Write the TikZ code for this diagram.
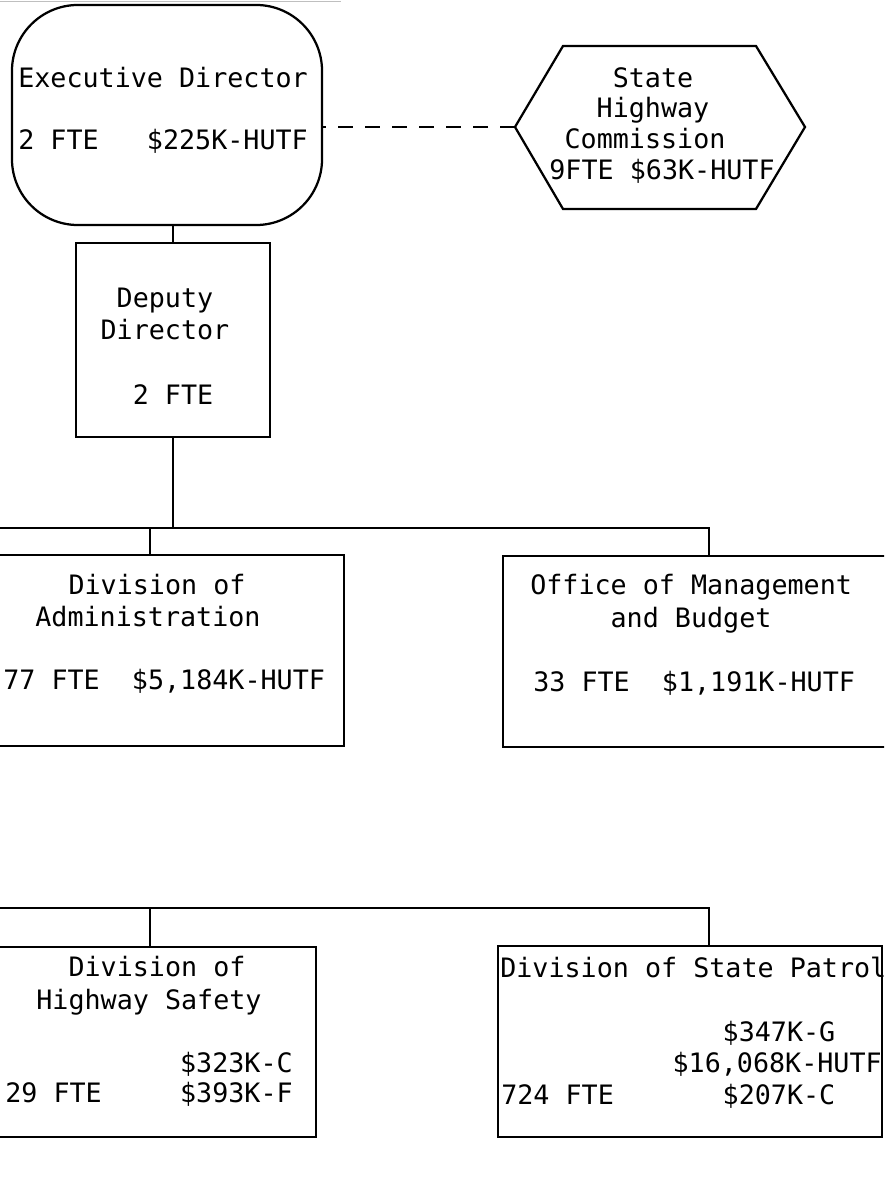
\documentclass[tikz,border=0pt]{standalone}
\usepackage{fontspec}
\setmainfont{DejaVu Sans Mono}
\usepackage{tikz}
\usetikzlibrary{calc, positioning}

\begin{document}
\begin{tikzpicture}[
    x=0.025cm, y=-0.025cm,
    unit/.style={draw, line width=1.6pt, inner sep=0pt},
    lbl/.style={inner sep=0pt, text height=13.8pt, text depth=0pt,
      font=\fontsize{19}{22}\selectfont},
    link/.style={line width=1.4pt},
    dashlink/.style={line width=1.4pt, dash pattern=on 0.375cm off 0.3cm},
  ]
    \clip (0,0) rectangle (884,1187);
    \draw[gray!50, line width=0.6pt] (0,1) -- (341,1);

    % top level
    \node[unit, rounded corners=1.65cm, minimum width=7.75cm, minimum height=5.5cm] (exec) at (167,115) {};
    \node[lbl, anchor=west] (exec-t1) at (18,78) {Executive Director};
    \node[lbl, anchor=west] (exec-t2) at (18,140) {2 FTE~~~\$225K-HUTF};

    \draw[line width=1.6pt] (515,127) coordinate (shc-w) -- (563,46) -- (756,46)
      -- (805,127) coordinate (shc-e) -- (756,209) -- (563,209) -- cycle;
    \node[lbl] (shc-t1) at (653,78) {State};
    \node[lbl] (shc-t2) at (653,108) {Highway};
    \node[lbl] (shc-t3) at (645,139) {Commission};
    \node[lbl] (shc-t4) at (662,170) {9FTE \$63K-HUTF};

    \node[unit, minimum width=4.85cm, minimum height=4.85cm] (dep) at (173,340) {};
    \node[lbl] (dep-t1) at (165,298) {Deputy};
    \node[lbl] (dep-t2) at (165,330) {Director};
    \node[lbl] (dep-t3) at (173,395) {2 FTE};

    % divisions
    \node[unit, minimum width=9.7cm, minimum height=4.775cm] (admin) at (150,650.5) {};
    \node[lbl] (admin-t1) at (157,585) {Division of};
    \node[lbl] (admin-t2) at (148,617) {Administration};
    \node[lbl, anchor=west] (admin-t3) at (3,680) {77 FTE~~\$5,184K-HUTF};

    \node[unit, minimum width=9.675cm, minimum height=4.775cm] (omb) at (696.5,651.5) {};
    \node[lbl, anchor=west] (omb-t1) at (530,585) {Office of Management};
    \node[lbl] (omb-t2) at (691,618) {and Budget};
    \node[lbl, anchor=west] (omb-t3) at (533,682) {33 FTE~~\$1,191K-HUTF};

    \node[unit, minimum width=8.3cm, minimum height=4.75cm] (hs) at (150,1042) {};
    \node[lbl] (hs-t1) at (157,967) {Division of};
    \node[lbl] (hs-t2) at (149,1000) {Highway Safety};
    \node[lbl, anchor=east] (hs-t3) at (293,1063) {\$323K-C};
    \node[lbl, anchor=west] (hs-t4) at (5,1093) {29 FTE};
    \node[lbl, anchor=east] (hs-t5) at (293,1093) {\$393K-F};

    \node[unit, minimum width=9.6cm, minimum height=4.775cm] (sp) at (690,1041.5) {};
    \node[lbl, anchor=west] (sp-t1) at (500,968) {Division of State Patrol};
    \node[lbl] (sp-t2) at (779,1032) {\$347K-G};
    \node[lbl, anchor=east] (sp-t3) at (882,1063) {\$16,068K-HUTF};
    \node[lbl, anchor=west] (sp-t4) at (501,1095) {724 FTE};
    \node[lbl] (sp-t5) at (779,1095) {\$207K-C};

    % connectors
    \coordinate (bus1w) at (0,528);
    \coordinate (bus1e) at (709,528);
    \coordinate (bus2w) at (0,908);
    \coordinate (bus2e) at (709,908);
    \draw[dashlink] (shc-w) -- (shc-w -| exec.east);
    \draw[link] (dep.north) -- (dep.north |- exec.south);
    \draw[link] (dep.south) -- (dep.south |- bus1w);
    \draw[link] (bus1w) -- (bus1e) -- (bus1e |- omb.north);
    \draw[link] (admin.north) -- (admin.north |- bus1w);
    \draw[link] (bus2w) -- (bus2e) -- (bus2e |- sp.north);
    \draw[link] (hs.north) -- (hs.north |- bus2w);
\end{tikzpicture}
\end{document}
